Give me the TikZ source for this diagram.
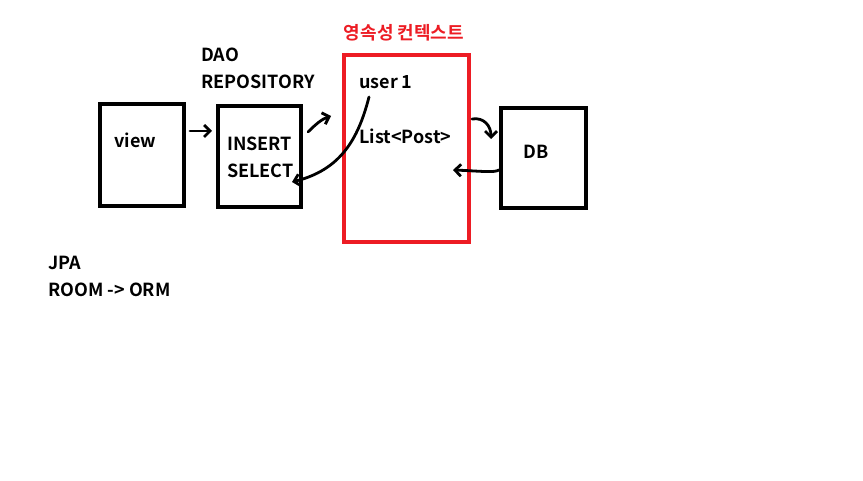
\documentclass[tikz,border=0pt]{standalone}
\usepackage{fontspec}
\setmainfont{Noto Sans CJK KR}[BoldFont={* Bold}]
\usetikzlibrary{arrows.meta}
\definecolor{pred}{HTML}{ED1C24}
\tikzset{
  box/.style={draw=black, line width=4pt, inner sep=0pt},
  redbox/.style={draw=pred, line width=4pt, inner sep=0pt},
  lbl/.style={font=\bfseries\fontsize{18}{18}\selectfont, inner sep=0pt, anchor=west},
  pen/.style={line width=2.8pt, line cap=round, -{Straight Barb[length=6pt,width=12pt,line width=2.8pt]}}
}
\begin{document}
\begin{tikzpicture}[x=1pt,y=-1pt]
\useasboundingbox (0,0) rectangle (863,481);
\fill[white] (0,0) rectangle (863,481);
% boxes
\node[box, minimum width=84pt, minimum height=102pt] (view) at (142,155) {};
\node[box, minimum width=83pt, minimum height=101pt] (ins) at (259.5,156.5) {};
\node[redbox, minimum width=125pt, minimum height=187pt] (pc) at (406.5,148.5) {};
\node[box, minimum width=85pt, minimum height=100pt] (db) at (543.5,158) {};
% labels
\node[lbl, text=pred, anchor=center] (pct) at (404,33) {영속성 컨텍스트};
\node[lbl] (dao) at (201,55) {DAO};
\node[lbl] (repo) at (201,82) {REPOSITORY};
\node[lbl] (viewt) at (114,140) {view};
\node[lbl] (insert) at (227,144) {INSERT};
\node[lbl] (select) at (227,171) {SELECT};
\node[lbl] (user) at (359,82) {user 1};
\node[lbl] (list) at (359,136) {List<Post>};
\node[lbl] (dbt) at (523,152) {DB};
\node[lbl] (jpa) at (48,263) {JPA};
\node[lbl] (room) at (48,290) {ROOM -> ORM};
% connector end points
\coordinate (a1s) at (190,131);
\coordinate (a1e) at (212,131);
\coordinate (a2s) at (308,132);
\coordinate (a2e) at (331,116);
\coordinate (a3s) at (369,97);
\coordinate (a3e) at (292,182);
\coordinate (a4s) at (472,119);
\coordinate (a4e) at (491,139);
\coordinate (a5s) at (499,170);
\coordinate (a5e) at (453,170);
% connectors
\draw[pen] (a1s) -- (a1e);
\draw[pen] (a2s) .. controls (316,124) and (322,119) .. (a2e);
\draw[pen] (a3s) .. controls (358,140) and (340,170) .. (a3e);
\draw[pen] (a4s) .. controls (484,117) and (491,126) .. (a4e);
\draw[pen] (a5s) .. controls (494,173) and (480,171) .. (a5e);
\end{tikzpicture}
\end{document}
